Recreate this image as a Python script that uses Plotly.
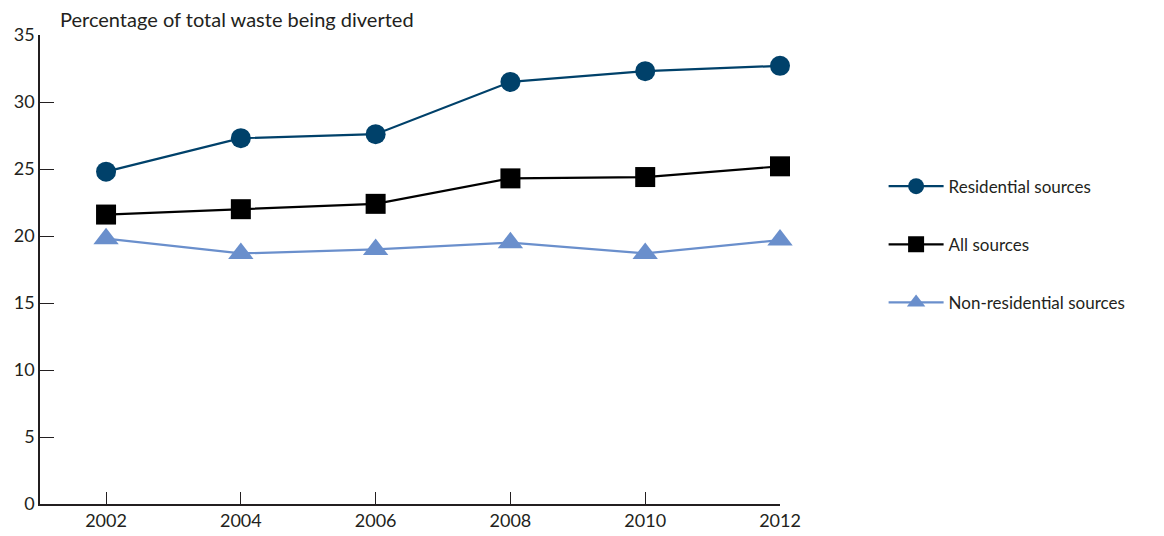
import plotly.graph_objects as go

years = [2002, 2004, 2006, 2008, 2010, 2012]
residential = [24.8, 27.3, 27.6, 31.5, 32.3, 32.7]
all_sources = [21.6, 22.0, 22.4, 24.3, 24.4, 25.2]
non_residential = [19.8, 18.7, 19.0, 19.5, 18.7, 19.7]
y_ticks = [0, 5, 10, 15, 20, 25, 30, 35]

FONT = "Lato"

fig = go.Figure()
fig.add_trace(go.Scatter(x=years, y=residential, name="Residential sources",
                         mode="lines+markers", line=dict(color="#00416a", width=2.2),
                         marker=dict(symbol="circle", size=20, color="#00416a"),
                         cliponaxis=False))
fig.add_trace(go.Scatter(x=years, y=all_sources, name="All sources",
                         mode="lines+markers", line=dict(color="#000000", width=2.2),
                         marker=dict(symbol="square", size=20, color="#000000"),
                         cliponaxis=False))
fig.add_trace(go.Scatter(x=years, y=non_residential, name="Non-residential sources",
                         mode="lines+markers", line=dict(color="#6a8fcc", width=2.2),
                         marker=dict(symbol="triangle-up", size=22, color="#6a8fcc"),
                         cliponaxis=False))

fig.update_layout(
    width=1164, height=536,
    margin=dict(l=40, r=384, t=35, b=32),
    paper_bgcolor="white", plot_bgcolor="white",
    font=dict(family=FONT, size=17, color="#231f20"),
    showlegend=True,
    legend=dict(x=1.14, y=0.715, xanchor="left", yanchor="top",
                font=dict(family=FONT, size=17, color="#231f20"),
                tracegroupgap=33, itemsizing="trace", itemwidth=55),
    xaxis=dict(range=[2001.02, 2012], tickvals=years, ticktext=[str(y) for y in years],
               showgrid=False, zeroline=False, showline=True, linecolor="#231f20",
               linewidth=1.5, ticks="inside", ticklen=12, tickcolor="#231f20",
               tickfont=dict(family=FONT, size=18), automargin=False),
    yaxis=dict(range=[0, 35], tickvals=y_ticks, showgrid=False, zeroline=False,
               showline=True, linecolor="#231f20", linewidth=1.5,
               ticks="inside", ticklen=14, tickcolor="#231f20",
               tickfont=dict(family=FONT, size=18), automargin=False),
    annotations=[dict(text="Percentage of total waste being diverted", xref="paper",
                      yref="paper", x=0.024, y=1.0, xanchor="left", yanchor="bottom",
                      yshift=2, showarrow=False, font=dict(family=FONT, size=20, color="#231f20"))],
)
for i, tr in enumerate(fig.data):
    tr.legendgroup = str(i)

fig.write_html("out.html")
